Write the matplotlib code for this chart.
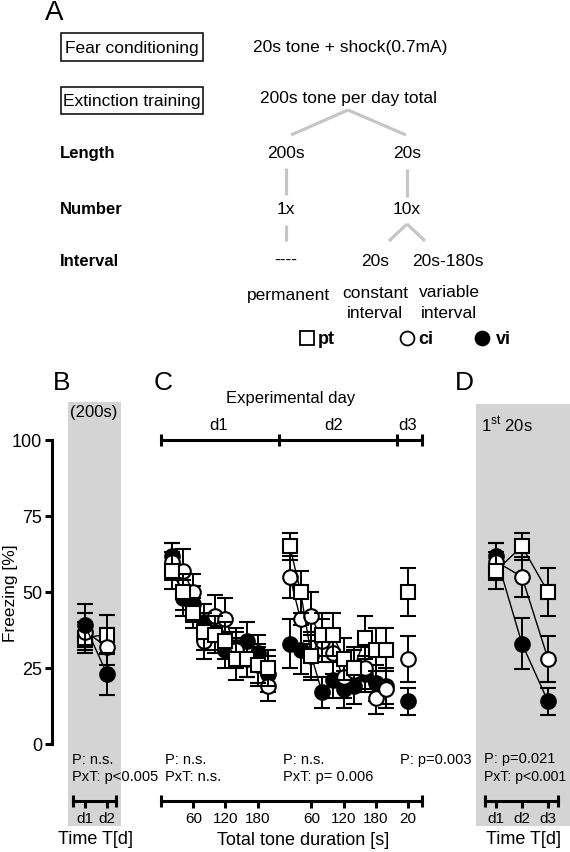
import matplotlib
matplotlib.use("Agg")
import matplotlib.pyplot as plt
from matplotlib.patches import Rectangle

plt.rcParams['font.family'] = ['Liberation Sans', 'DejaVu Sans']
plt.rcParams['mathtext.fontset'] = 'custom'
plt.rcParams['mathtext.rm'] = 'Liberation Sans'

W, H = 570, 853

# ---- data (freezing %) ----
groups = ['pt', 'ci', 'vi']
tone_s = [20, 40, 60, 80, 100, 120, 140, 160, 180, 200]
day_offset = [0, 220, 440]
d3_tone = [20]

# panel B: 200 s tone, days 1-2
b_pt = [35, 36]
b_pt_err = [5, 6.5]
b_ci = [37, 32]
b_ci_err = [6, 6]
b_vi = [39, 23]
b_vi_err = [7, 7]

# panel C: each 20 s bin, day 1
c1_pt = [57, 50, 43, 37, 36, 34, 28, 28, 26, 25]
c1_pt_err = [6, 6, 5, 6, 6, 6, 7, 6, 6, 6]
c1_ci = [60, 57, 50, 34, 42, 41, 31, 28, 26, 19]
c1_ci_err = [6, 7, 6, 6, 7, 7, 6, 6, 7, 5]
c1_vi = [62, 48, 46, 40, 37, 31, 32, 34, 30, 23]
c1_vi_err = [4, 6, 6, 6, 6, 6, 6, 6, 6, 6]
# day 2
c2_pt = [65, 50, 29, 36, 36, 28, 25, 35, 31, 31]
c2_pt_err = [4.5, 7, 7, 7, 7, 7, 7, 7, 7, 7]
c2_ci = [55, 41, 42, 34, 30, 22, 24, 25, 15, 18]
c2_ci_err = [7, 8, 8, 7, 7, 7, 7, 7, 5, 6]
c2_vi = [33, 31, 29, 17, 21, 18, 19, 23, 20, 19]
c2_vi_err = [8, 8, 8, 5, 6, 6, 6, 6, 6, 6]
# day 3 (first 20 s only)
c3_pt = [50]
c3_pt_err = [8]
c3_ci = [28]
c3_ci_err = [7.5]
c3_vi = [14]
c3_vi_err = [4.5]

# panel D: first 20 s of each day
d_pt = [57, 65, 50]
d_pt_err = [6, 4.5, 8]
d_ci = [60, 55, 28]
d_ci_err = [6, 6.5, 7.5]
d_vi = [62, 33, 14]
d_vi_err = [4, 8.3, 4.5]

c_ticks = [60, 120, 180, 280, 340, 400, 460]
c_ticklabels = ['60', '120', '180', '60', '120', '180', '20']
y_ticks = [0, 25, 50, 75, 100]

style = {
    'pt': dict(marker='s', mfc='white'),
    'ci': dict(marker='o', mfc='white'),
    'vi': dict(marker='o', mfc='black'),
}

GREY_BG = '#d4d4d4'
GREY_LINE = '#c6c6c6'
LW_AX = 2.2
BOTTOM_Y = -18.75  # freezing value where the bottom brackets sit


def px_axes(x0, y0, x1, y1, **kw):
    return fig.add_axes([x0 / W, 1 - y1 / H, (x1 - x0) / W, (y1 - y0) / H], **kw)


def series(ax, x, y, err, g, zorder):
    ax.errorbar(x, y, yerr=err, color='k', ls='-', lw=1.0, mec='k', ms=10.5, mew=1.5,
                elinewidth=1.4, capsize=5.8, capthick=1.4, clip_on=False,
                zorder=zorder, **style[g])


def bracket_axis(ax, lo, hi, ticks, labels):
    ax.spines['bottom'].set_position(('data', BOTTOM_Y))
    ax.spines['bottom'].set_bounds(lo, hi)
    ax.spines['bottom'].set_linewidth(LW_AX)
    ax.set_xticks(ticks, labels)
    ax.tick_params(axis='x', direction='out', length=5, width=LW_AX, labelsize=11, pad=2)
    ax.plot([lo, hi], [BOTTOM_Y, BOTTOM_Y], ls='', marker='|', ms=9, mew=LW_AX,
            color='k', clip_on=False)


fig = plt.figure(figsize=(W / 100, H / 100), dpi=100)

# background layer in pixel coordinates (text, schematic, grey panels)
bg = fig.add_axes([0, 0, 1, 1], zorder=0)
bg.set_xlim(0, W)
bg.set_ylim(H, 0)
bg.axis('off')

bg.add_patch(Rectangle((68, 403), 53, 424, color=GREY_BG, lw=0))
bg.add_patch(Rectangle((476, 405), 94, 422, color=GREY_BG, lw=0))

# ---- panel A: design schematic ----
FS = 12.5
bg.text(45, 13, 'A', fontsize=20, ha='left', va='center')
for y0, h, label in [(34, 28, 'Fear conditioning'), (88, 27, 'Extinction training')]:
    bg.add_patch(Rectangle((61, y0), 142, h, fill=False, lw=1.1, ec='k'))
    bg.text(132, y0 + h / 2, label, fontsize=FS, ha='center', va='center')
bg.text(350, 47, '20s tone + shock(0.7mA)', fontsize=FS, ha='center', va='center')
bg.text(348, 98, '200s tone per day total', fontsize=FS, ha='center', va='center')

for (xa, ya), (xb, yb) in [((348, 111), (291, 136)), ((348, 111), (406, 136)),
                           ((286, 169), (286, 196)), ((407, 170), (407, 198)),
                           ((286, 226), (286, 242)), ((407, 225), (389, 242)),
                           ((407, 225), (425, 242))]:
    bg.plot([xa, xb], [ya, yb], color=GREY_LINE, lw=2.3, solid_capstyle='butt')

for y, label in [(153, 'Length'), (209, 'Number'), (261, 'Interval')]:
    bg.text(60, y, label, fontsize=12, fontweight='bold', ha='left', va='center')
for x, y, label in [(286, 153, '200s'), (407, 153, '20s'), (286, 209, '1x'),
                    (407, 209, '10x'), (286, 260, '----'), (375, 261, '20s'),
                    (448, 261, '20s-180s'), (288, 295, 'permanent'),
                    (375, 293, 'constant'), (375, 313, 'interval'),
                    (449, 292, 'variable'), (449, 313, 'interval')]:
    bg.text(x, y, label, fontsize=FS, ha='center', va='center')

for x, g, tx in [(307, 'pt', 318), (407, 'ci', 418), (482, 'vi', 496)]:
    bg.plot([x], [339], ls='', ms=10, mew=1.3, mec='k', **style[g])
    bg.text(tx, 339, g, fontsize=13, fontweight='bold', ha='left', va='center')

# panel letters and titles
for x, label in [(62, 'B'), (163, 'C'), (464, 'D')]:
    bg.text(x, 383, label, fontsize=19, ha='center', va='center')
bg.text(94, 413, '(200s)', fontsize=12, ha='center', va='center')
bg.text(291, 399, 'Experimental day', fontsize=12, ha='center', va='center')
for x, label in [(219, 'd1'), (334, 'd2'), (408, 'd3')]:
    bg.text(x, 425, label, fontsize=12, ha='center', va='center')
bg.text(507, 425, r'1$^{\mathrm{st}}$ 20s', fontsize=12, ha='center', va='center')

# statistics
SFS = 10.5
for x, y, label, fs in [(72, 760, 'P: n.s.', SFS), (72, 777, 'PxT: p<0.005', SFS),
                        (165, 760, 'P: n.s.', SFS), (165, 777, 'PxT: n.s.', SFS),
                        (283, 760, 'P: n.s.', SFS), (283, 777, 'PxT: p= 0.006', SFS),
                        (400, 760, 'P: p=0.003', SFS),
                        (484, 759, 'P: p=0.021', SFS), (484, 777, 'PxT: p<0.001', 10.1)]:
    bg.text(x, y, label, fontsize=fs, ha='left', va='center')

bg.text(11, 593, 'Freezing [%]', fontsize=12.5, rotation=90, ha='center', va='center')
bg.text(95, 840, 'Time T[d]', fontsize=13, ha='center', va='center')
bg.text(303, 841, 'Total tone duration [s]', fontsize=13, ha='center', va='center')
bg.text(523, 840, 'Time T[d]', fontsize=13, ha='center', va='center')

# ---- panel B ----
axB = px_axes(52, 441, 121, 745, zorder=1)
axB.patch.set_visible(False)
axB.set_xlim(-0.5, 2.636)
axB.set_ylim(0, 100)
for s in ['top', 'right']:
    axB.spines[s].set_visible(False)
axB.spines['left'].set_bounds(0, 100)
axB.spines['left'].set_linewidth(LW_AX)
axB.set_yticks(y_ticks)
axB.tick_params(axis='y', direction='out', length=5, width=LW_AX, labelsize=13, pad=2)
bracket_axis(axB, 0.45, 2.41, [1, 2], ['d1', 'd2'])
days_b = [1, 2]
for z, (g, y, e) in enumerate([('pt', b_pt, b_pt_err), ('ci', b_ci, b_ci_err),
                               ('vi', b_vi, b_vi_err)]):
    series(axB, days_b, y, e, g, 3 + z)

# ---- panel C ----
axC = px_axes(155, 441, 430, 745, zorder=1)
axC.patch.set_visible(False)
axC.set_xlim(-11.4, 501.2)
axC.set_ylim(0, 100)
for s in ['top', 'right', 'left']:
    axC.spines[s].set_visible(False)
axC.set_yticks([])
bracket_axis(axC, 0, 486, c_ticks, c_ticklabels)
# experimental day bracket along the top
axC.plot([0, 486], [100, 100], color='k', lw=LW_AX, clip_on=False)
axC.plot([0, day_offset[1], day_offset[2], 486], [100] * 4, ls='', marker='|', ms=9,
         mew=LW_AX, color='k', clip_on=False)

c_days = [
    (tone_s, day_offset[0], [('vi', c1_vi, c1_vi_err), ('ci', c1_ci, c1_ci_err), ('pt', c1_pt, c1_pt_err)]),
    (tone_s, day_offset[1], [('vi', c2_vi, c2_vi_err), ('ci', c2_ci, c2_ci_err), ('pt', c2_pt, c2_pt_err)]),
    (d3_tone, day_offset[2], [('vi', c3_vi, c3_vi_err), ('ci', c3_ci, c3_ci_err), ('pt', c3_pt, c3_pt_err)]),
]
for t, off, sets in c_days:
    x = [v + off for v in t]
    for z, (g, y, e) in enumerate(sets):
        series(axC, x, y, e, g, 3 + z)

# ---- panel D ----
axD = px_axes(476, 441, 570, 745, zorder=1)
axD.patch.set_visible(False)
axD.set_xlim(0.231, 3.846)
axD.set_ylim(0, 100)
for s in ['top', 'right', 'left']:
    axD.spines[s].set_visible(False)
axD.set_yticks([])
bracket_axis(axD, 0.577, 3.385, [1, 2, 3], ['d1', 'd2', 'd3'])
days_d = [1, 2, 3]
for z, (g, y, e) in enumerate([('vi', d_vi, d_vi_err), ('ci', d_ci, d_ci_err),
                               ('pt', d_pt, d_pt_err)]):
    series(axD, days_d, y, e, g, 3 + z)

fig.savefig('out.png', dpi=100)
